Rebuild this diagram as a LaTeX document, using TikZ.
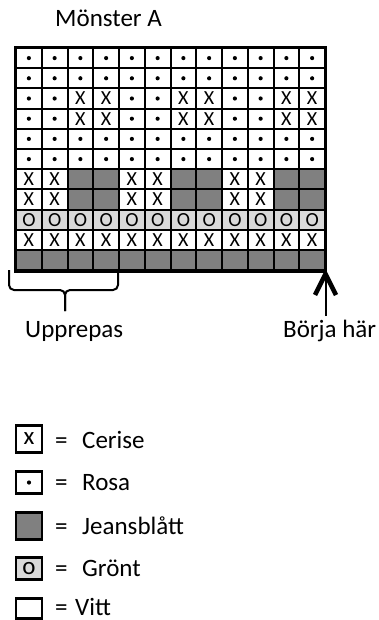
\documentclass[tikz,border=0pt]{standalone}
\usepackage{fontspec}
\setmainfont{Carlito}
\definecolor{jeans}{RGB}{128,128,128}
\definecolor{gront}{RGB}{217,217,217}
\tikzset{
  cell/.style={draw, line width=2pt, minimum width=25.75pt, minimum height=20.2pt,
    inner sep=0pt, fill=white},
  cell d/.style={path picture={\fill[black] (path picture bounding box.center) circle (2.1pt);}},
  cell x/.style={label={[font=\fontsize{20}{20}\selectfont]center:X}},
  cell o/.style={fill=gront, label={[font=\fontsize{20}{20}\selectfont]center:O}},
  cell j/.style={fill=jeans},
  keybox/.style={draw, line width=2.4pt, minimum width=26pt, inner sep=0pt,
    font=\fontsize{25}{25}\selectfont},
  txt/.style={anchor=base west, inner sep=0pt, font=\fontsize{25}{25}\selectfont}
}
\begin{document}
\begin{tikzpicture}[x=1pt, y=-1pt]
  \useasboundingbox (0,0) rectangle (379,620);
  \node[txt] (title) at (55,27) {Mönster A};
  % pattern rows, top to bottom
  \foreach \row [count=\r] in {
      {d,d,d,d,d,d,d,d,d,d,d,d},
      {d,d,d,d,d,d,d,d,d,d,d,d},
      {d,d,x,x,d,d,x,x,d,d,x,x},
      {d,d,x,x,d,d,x,x,d,d,x,x},
      {d,d,d,d,d,d,d,d,d,d,d,d},
      {d,d,d,d,d,d,d,d,d,d,d,d},
      {x,x,j,j,x,x,j,j,x,x,j,j},
      {x,x,j,j,x,x,j,j,x,x,j,j},
      {o,o,o,o,o,o,o,o,o,o,o,o},
      {x,x,x,x,x,x,x,x,x,x,x,x},
      {j,j,j,j,j,j,j,j,j,j,j,j}}
    \foreach \c [count=\k] in \row
      \node[cell, cell \c] (c\r-\k) at ({16+(\k-0.5)*25.75},{48+(\r-0.5)*20.2}) {};
  \draw[line width=2.6pt] (c1-1.north west) rectangle (c11-12.south east);
  % brace under the repeat
  \coordinate (bl) at (9,270);
  \coordinate (br) at (118,270);
  \coordinate (bm) at (65,290);
  \coordinate (bt) at (65,311);
  \draw[line width=2pt, rounded corners=5pt] (bl) |- (bm) -- (bt);
  \draw[line width=2pt, rounded corners=5pt] (br) |- (bm) -- (bt);
  \node[txt] (rep) at (25,337) {Upprepas};
  % start arrow
  \coordinate (tip) at (325.5,274);
  \coordinate (tail) at (325.5,316);
  \draw[line width=2pt] (tail) -- (tip);
  \draw[line width=4.6pt, line join=miter] (315,295) -- (tip) -- (336,295);
  \node[txt] (start) at (283,337) {Börja här};
  % legend
  \node[keybox, minimum height=27pt] (kx) at (29,439) {x};
  \node[keybox, minimum height=22pt, path picture={\fill (path picture bounding box.center) circle (2.1pt);}] (kd) at (29,482.5) {};
  \node[keybox, minimum height=27pt, fill=jeans] (kj) at (29,526) {};
  \node[keybox, minimum height=22pt, fill=gront] (ko) at (29,568.5) {o};
  \node[keybox, minimum height=20pt] (kv) at (29,608.5) {};
  \node[txt] at (55,448) {=};
  \node[txt] at (82,448) {Cerise};
  \node[txt] at (55,490) {=};
  \node[txt] at (82,490) {Rosa};
  \node[txt] at (55,534) {=};
  \node[txt] at (82,534) {Jeansblått};
  \node[txt] at (55,576) {=};
  \node[txt] at (82,576) {Grönt};
  \node[txt] at (55,615) {=};
  \node[txt] at (75,615) {Vitt};
\end{tikzpicture}
\end{document}
